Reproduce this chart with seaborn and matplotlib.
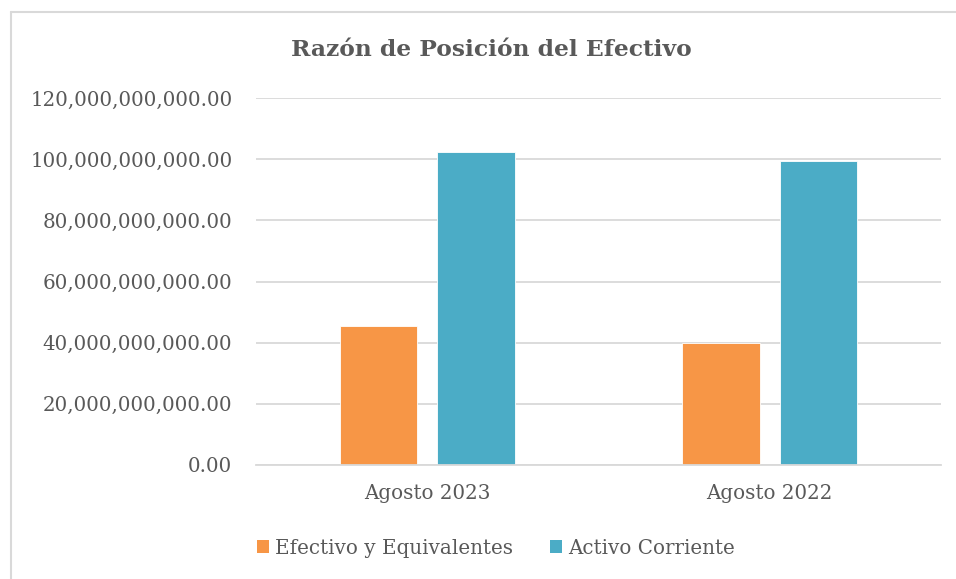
import matplotlib
matplotlib.use("Agg")
import matplotlib.pyplot as plt
import matplotlib.ticker as mticker
from matplotlib.lines import Line2D
from matplotlib.patches import Patch
import pandas as pd
import seaborn as sns

# datos
periodos = ["Agosto 2023", "Agosto 2022"]
efectivo = [45.4e9, 39.9e9]
activo_corriente = [102.3e9, 99.4e9]
series = ["Efectivo y Equivalentes", "Activo Corriente"]
colores = ["#F79646", "#4BACC6"]

df = pd.DataFrame({
    "periodo": periodos * 2,
    "valor": efectivo + activo_corriente,
    "serie": [series[0]] * 2 + [series[1]] * 2,
})

sns.set_theme(style="white")
plt.rcParams["font.family"] = ["DejaVu Serif"]
texto = "#595959"
gris = "#d9d9d9"

fig = plt.figure(figsize=(9.56, 5.79), dpi=100)
ax = fig.add_axes([256 / 956, 1 - 465 / 579, (941 - 256) / 956, (465 - 98) / 579])

sns.barplot(df, x="periodo", y="valor", hue="serie", palette=colores,
            width=0.57, gap=0.21, ax=ax, legend=False,
            edgecolor="#ffffff", linewidth=0.6, saturation=1)

ax.set_ylim(0, 120e9)
ax.set_yticks([i * 20e9 for i in range(7)])
ax.yaxis.set_major_formatter(mticker.FuncFormatter(lambda v, p: f"{v:,.2f}"))
ax.set_xlim(-0.5, 1.5)
ax.grid(axis="y", color=gris, linewidth=1.3)
ax.set_axisbelow(True)
for s in ["top", "right", "left"]:
    ax.spines[s].set_visible(False)
ax.spines["bottom"].set_color(gris)
ax.spines["bottom"].set_linewidth(1.3)
ax.tick_params(axis="both", length=0, colors=texto, labelsize=14.3)
ax.tick_params(axis="y", pad=17)
ax.tick_params(axis="x", pad=14)
ax.set_xlabel("")
ax.set_ylabel("")

fig.text(491 / 956, 1 - 50 / 579, "Razón de Posición del Efectivo",
         ha="center", va="center", fontsize=16.8, fontweight="bold", color=texto)

handles = [Patch(facecolor=c, edgecolor="none") for c in colores]
fig.legend(handles, series, loc="center", bbox_to_anchor=(496 / 956, 1 - 548 / 579),
           ncol=2, frameon=False, fontsize=14.3, labelcolor=texto,
           handlelength=0.6, handleheight=0.6, handletextpad=0.3, columnspacing=1.9)

# borde del area del grafico
fig.add_artist(Line2D([10.5 / 956, 1], [1 - 11.5 / 579] * 2, color=gris, linewidth=1.5))
fig.add_artist(Line2D([10.5 / 956] * 2, [0, 1 - 11.5 / 579], color=gris, linewidth=1.5))

fig.savefig("out.png", dpi=100)
plt.close()
